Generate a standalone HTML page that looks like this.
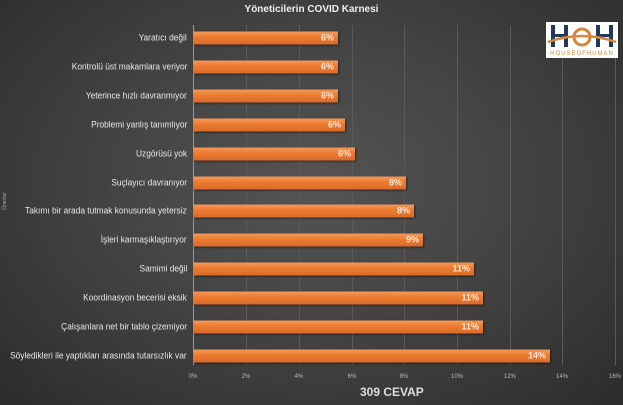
<!DOCTYPE html>
<html><head><meta charset="utf-8"><style>
body{margin:0;width:623px;height:405px;overflow:hidden;background:radial-gradient(ellipse at 50% 45%,#555 0%,#404040 55%,#2c2c2c 100%);font-family:"Liberation Sans",sans-serif;position:relative}
.t{position:absolute;color:#eee}
.lab{position:absolute;right:436px;font-size:9.5px;color:#e8e8e8;white-space:nowrap;transform:translateY(-50%) scaleX(0.88);transform-origin:right center}
.bar{position:absolute;left:193px;height:13px;background:linear-gradient(#f59a5a,#ed7d31 40%,#d9692a);transform:translateY(-50%);box-shadow:1px 1px 2px rgba(0,0,0,.5)}
.bar span{position:absolute;right:4px;top:0;line-height:13px;font-size:9px;font-weight:bold;color:#fde6d6}
.g{position:absolute;top:25px;height:340px;width:1px;background:#5a5a5a}
.tk{position:absolute;top:374px;font-size:6px;color:#bbb;transform:translateX(-50%)}
</style></head><body>
<div class="t" style="left:0;width:623px;top:4px;text-align:center;font-size:10px;font-weight:bold">Yöneticilerin COVID Karnesi</div>
<div class="g" style="left:246px"></div><div class="g" style="left:299px"></div><div class="g" style="left:352px"></div><div class="g" style="left:404px"></div><div class="g" style="left:457px"></div><div class="g" style="left:510px"></div><div class="g" style="left:562px"></div><div class="g" style="left:615px"></div>
<div class="g" style="left:193px;background:#999"></div>
<div style="position:absolute;left:546px;top:22px;width:72px;height:36px;background:#fff">
<svg width="72" height="36"><g fill="#1f3a5c"><rect x="5" y="3" width="4" height="22"/><rect x="18" y="3" width="4" height="22"/><rect x="9" y="12" width="9" height="3"/><rect x="50" y="3" width="4" height="22"/><rect x="63" y="3" width="4" height="22"/><rect x="54" y="12" width="9" height="3"/></g><circle cx="36" cy="15" r="8" fill="none" stroke="#d4873a" stroke-width="3"/><path d="M2 20 Q36 8 70 20" stroke="#d4873a" stroke-width="2.5" fill="none"/><text x="36" y="33" font-size="6" fill="#d4873a" text-anchor="middle" letter-spacing="1">HOUSEOFHUMAN</text></svg></div>
<div class="lab" style="top:38px">Yaratıcı değil</div><div class="bar" style="top:38px;width:145px"><span>6%</span></div>
<div class="lab" style="top:67px">Kontrolü üst makamlara veriyor</div><div class="bar" style="top:67px;width:145px"><span>6%</span></div>
<div class="lab" style="top:96px">Yeterince hızlı davranmıyor</div><div class="bar" style="top:96px;width:145px"><span>6%</span></div>
<div class="lab" style="top:125px">Problemi yanlış tanımlıyor</div><div class="bar" style="top:125px;width:152px"><span>6%</span></div>
<div class="lab" style="top:154px">Uzgörüsü yok</div><div class="bar" style="top:154px;width:162px"><span>6%</span></div>
<div class="lab" style="top:183px">Suçlayıcı davranıyor</div><div class="bar" style="top:183px;width:213px"><span>8%</span></div>
<div class="lab" style="top:211px">Takımı bir arada tutmak konusunda yetersiz</div><div class="bar" style="top:211px;width:221px"><span>8%</span></div>
<div class="lab" style="top:240px">İşleri karmaşıklaştırıyor</div><div class="bar" style="top:240px;width:230px"><span>9%</span></div>
<div class="lab" style="top:269px">Samimi değil</div><div class="bar" style="top:269px;width:281px"><span>11%</span></div>
<div class="lab" style="top:298px">Koordinasyon becerisi eksik</div><div class="bar" style="top:298px;width:290px"><span>11%</span></div>
<div class="lab" style="top:327px">Çalışanlara net bir tablo çizemiyor</div><div class="bar" style="top:327px;width:290px"><span>11%</span></div>
<div class="lab" style="top:356px">Söyledikleri ile yaptıkları arasında tutarsızlık var</div><div class="bar" style="top:356px;width:357px"><span>14%</span></div>
<div class="tk" style="left:193px">0%</div><div class="tk" style="left:246px">2%</div><div class="tk" style="left:299px">4%</div><div class="tk" style="left:352px">6%</div><div class="tk" style="left:404px">8%</div><div class="tk" style="left:457px">10%</div><div class="tk" style="left:510px">12%</div><div class="tk" style="left:562px">14%</div><div class="tk" style="left:615px">16%</div>
<div class="t" style="left:360px;top:385px;font-size:12px;font-weight:bold;color:#ddd">309 CEVAP</div>
<div class="t" style="left:-4px;top:198px;font-size:5px;color:#aaa;transform:rotate(-90deg)">Öneriler</div>
</body></html>
